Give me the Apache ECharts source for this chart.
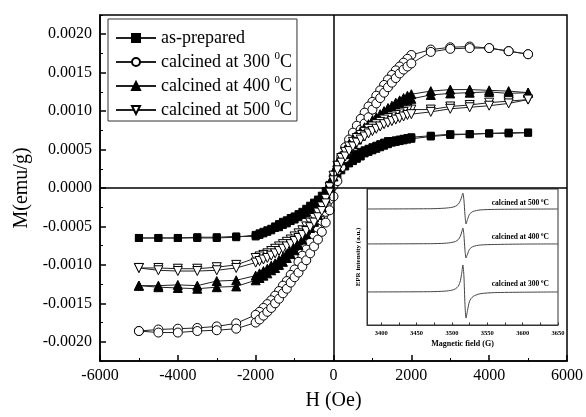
<!DOCTYPE html>
<html>
<head>
<meta charset="utf-8">
<script src="https://cdn.jsdelivr.net/npm/echarts@6/dist/echarts.min.js"></script>
<style>
  html, body { margin: 0; background: #fff; }
  #container { width: 586px; height: 417px; }
</style>
</head>
<body>
<div id="container"></div>
<script>
// field steps of the loop: down from +5000 to -5000, then back up
var hDown = [5000, 4500, 4000, 3500, 3000, 2500,
  2000, 1900, 1800, 1700, 1600, 1500, 1400, 1300, 1200, 1100, 1000, 900, 800, 700, 600, 500, 400, 300, 200, 100,
  0, -100, -200, -300, -400, -500, -600, -700, -800, -900, -1000, -1100, -1200, -1300, -1400, -1500, -1600, -1700, -1800, -1900, -2000,
  -2500, -3000, -3500, -4000, -4500, -5000];
var hUp = [-5000, -4500, -4000, -3500, -3000, -2500,
  -2000, -1900, -1800, -1700, -1600, -1500, -1400, -1300, -1200, -1100, -1000, -900, -800, -700, -600, -500, -400, -300, -200, -100,
  0, 100, 200, 300, 400, 500, 600, 700, 800, 900, 1000, 1100, 1200, 1300, 1400, 1500, 1600, 1700, 1800, 1900, 2000,
  2500, 3000, 3500, 4000, 4500, 5000];

// as-prepared (M, emu/g)
var mPrepDown = [0.00072, 0.00072, 0.00071, 0.00070, 0.00070, 0.00068,
  0.00066, 0.00065, 0.00064, 0.00063, 0.00062, 0.00061, 0.00061, 0.00059, 0.00057, 0.00055, 0.00053, 0.00051, 0.00049, 0.00047, 0.00044, 0.00041, 0.00038, 0.00034, 0.00029, 0.00023,
  0.00014, 0.00004, -0.00004, -0.00010, -0.00015, -0.00019, -0.00023, -0.00027, -0.00031, -0.00034, -0.00037, -0.00039, -0.00042, -0.00044, -0.00047, -0.00050, -0.00053, -0.00055, -0.00057, -0.00059, -0.00061,
  -0.00064, -0.00065, -0.00065, -0.00065, -0.00065, -0.00065];
var mPrepUp = [-0.00065, -0.00065, -0.00065, -0.00064, -0.00064, -0.00063,
  -0.00063, -0.00061, -0.00059, -0.00057, -0.00055, -0.00052, -0.00051, -0.00048, -0.00046, -0.00043, -0.00041, -0.00038, -0.00035, -0.00033, -0.00029, -0.00025, -0.00021, -0.00016, -0.00010, -0.00002,
  0.00008, 0.00017, 0.00023, 0.00028, 0.00032, 0.00035, 0.00038, 0.00041, 0.00045, 0.00047, 0.00049, 0.00051, 0.00053, 0.00055, 0.00057, 0.00059, 0.00060, 0.00061, 0.00062, 0.00063, 0.00064,
  0.00067, 0.00069, 0.00070, 0.00071, 0.00071, 0.00072];

// calcined at 300
var m300Down = [0.00174, 0.00178, 0.00182, 0.00184, 0.00183, 0.00180,
  0.00173, 0.00168, 0.00163, 0.00158, 0.00153, 0.00147, 0.00141, 0.00134, 0.00127, 0.00120, 0.00112, 0.00106, 0.00098, 0.00090, 0.00081, 0.00072, 0.00063, 0.00053, 0.00041, 0.00023,
  0.00003, -0.00015, -0.00031, -0.00043, -0.00053, -0.00062, -0.00071, -0.00080, -0.00088, -0.00096, -0.00106, -0.00113, -0.00121, -0.00127, -0.00134, -0.00140, -0.00146, -0.00151, -0.00156, -0.00161, -0.00165,
  -0.00176, -0.00180, -0.00182, -0.00183, -0.00184, -0.00186];
var m300Up = [-0.00186, -0.00188, -0.00188, -0.00186, -0.00185, -0.00183,
  -0.00175, -0.00171, -0.00166, -0.00161, -0.00156, -0.00150, -0.00144, -0.00137, -0.00131, -0.00123, -0.00116, -0.00110, -0.00102, -0.00094, -0.00085, -0.00076, -0.00067, -0.00057, -0.00045, -0.00029,
  -0.00011, 0.00009, 0.00027, 0.00039, 0.00049, 0.00058, 0.00067, 0.00076, 0.00084, 0.00092, 0.00102, 0.00110, 0.00117, 0.00124, 0.00131, 0.00137, 0.00143, 0.00149, 0.00154, 0.00158, 0.00162,
  0.00177, 0.00181, 0.00182, 0.00182, 0.00178, 0.00174];

// calcined at 400
var m400Down = [0.00124, 0.00126, 0.00127, 0.00128, 0.00128, 0.00126,
  0.00122, 0.00120, 0.00117, 0.00114, 0.00111, 0.00107, 0.00104, 0.00100, 0.00096, 0.00092, 0.00088, 0.00083, 0.00079, 0.00074, 0.00069, 0.00063, 0.00057, 0.00050, 0.00042, 0.00033,
  0.00021, 0.00007, -0.00007, -0.00019, -0.00029, -0.00038, -0.00046, -0.00054, -0.00061, -0.00068, -0.00075, -0.00080, -0.00085, -0.00090, -0.00094, -0.00098, -0.00101, -0.00105, -0.00108, -0.00111, -0.00114,
  -0.00120, -0.00121, -0.00127, -0.00126, -0.00127, -0.00127];
var m400Up = [-0.00127, -0.00129, -0.00130, -0.00131, -0.00129, -0.00128,
  -0.00120, -0.00117, -0.00114, -0.00111, -0.00107, -0.00104, -0.00100, -0.00096, -0.00091, -0.00086, -0.00081, -0.00074, -0.00067, -0.00060, -0.00052, -0.00044, -0.00035, -0.00025, -0.00013, 0.00001,
  0.00015, 0.00027, 0.00036, 0.00044, 0.00051, 0.00057, 0.00063, 0.00068, 0.00073, 0.00077, 0.00082, 0.00086, 0.00090, 0.00094, 0.00098, 0.00101, 0.00105, 0.00108, 0.00111, 0.00114, 0.00116,
  0.00121, 0.00123, 0.00124, 0.00125, 0.00123, 0.00124];

// calcined at 500
var m500Down = [0.00115, 0.00113, 0.00111, 0.00108, 0.00106, 0.00102,
  0.00102, 0.00101, 0.00099, 0.00097, 0.00095, 0.00093, 0.00091, 0.00089, 0.00086, 0.00083, 0.00080, 0.00077, 0.00073, 0.00069, 0.00065, 0.00060, 0.00054, 0.00047, 0.00039, 0.00029,
  0.00016, 0.00001, -0.00014, -0.00024, -0.00032, -0.00039, -0.00045, -0.00050, -0.00055, -0.00059, -0.00063, -0.00067, -0.00070, -0.00073, -0.00076, -0.00079, -0.00082, -0.00085, -0.00087, -0.00089, -0.00091,
  -0.00100, -0.00103, -0.00105, -0.00105, -0.00104, -0.00104];
var m500Up = [-0.00104, -0.00107, -0.00108, -0.00108, -0.00107, -0.00104,
  -0.00097, -0.00095, -0.00093, -0.00091, -0.00088, -0.00085, -0.00082, -0.00079, -0.00076, -0.00073, -0.00069, -0.00065, -0.00061, -0.00056, -0.00051, -0.00045, -0.00038, -0.00030, -0.00020, -0.00005,
  0.00010, 0.00023, 0.00033, 0.00041, 0.00048, 0.00054, 0.00059, 0.00063, 0.00067, 0.00071, 0.00074, 0.00077, 0.00080, 0.00083, 0.00085, 0.00087, 0.00089, 0.00091, 0.00093, 0.00095, 0.00096,
  0.00099, 0.00103, 0.00105, 0.00107, 0.00110, 0.00115];

var mTicks = [-0.002, -0.0015, -0.001, -0.0005, 0, 0.0005, 0.001, 0.0015, 0.002];
var mMinorTicks = [-0.00225, -0.00175, -0.00125, -0.00075, -0.00025, 0.00025, 0.00075, 0.00125, 0.00175, 0.00225];

// inset: EPR spectra
var eprField = [3380, 3470, 3490, 3500, 3505, 3509, 3512, 3514, 3515.5, 3517, 3518.5, 3520, 3522, 3525, 3530, 3540, 3560, 3600, 3650];
var epr500 = [85.3, 85.5, 85.9, 86.5, 87.3, 88.8, 91.5, 94.5, 97.0, 92.0, 81.0, 74.3, 77.5, 81.5, 83.5, 84.6, 85.0, 85.2, 85.3];
var epr400 = [59.6, 59.8, 60.1, 60.7, 61.4, 62.8, 65.3, 68.5, 71.3, 66.0, 55.0, 49.3, 52.0, 55.8, 57.7, 58.8, 59.2, 59.5, 59.6];
var epr300 = [24.3, 24.5, 24.9, 25.6, 26.6, 28.5, 32.5, 38.5, 44.1, 36.0, 15.0, 5.1, 10.5, 17.5, 21.0, 23.0, 23.8, 24.1, 24.3];
var eprLabels = [3400, 3450, 3500, 3550, 3600, 3650];
var eprTicks = [3400, 3425, 3450, 3475, 3500, 3525, 3550, 3575, 3600, 3625, 3650];

var names = ['as-prepared', 'calcined at 300 0C', 'calcined at 400 0C', 'calcined at 500 0C'];

var serif = '"Liberation Serif", "Times New Roman", serif';

function loop(down, up) {
  var d = [];
  for (var i = 0; i < hDown.length; i++) d.push([hDown[i], down[i]]);
  for (var j = 0; j < hUp.length; j++) d.push([hUp[j], up[j]]);
  return d;
}

function mSeries(name, down, up, symbol, size, fill) {
  return {
    name: name,
    type: 'line',
    xAxisIndex: 0,
    yAxisIndex: 0,
    data: loop(down, up),
    symbol: symbol,
    symbolSize: size,
    showAllSymbol: true,
    itemStyle: { color: fill, borderColor: '#000', borderWidth: 1 },
    lineStyle: { color: '#222', width: 1 },
    animation: false
  };
}

function eprSeries(vals) {
  return {
    type: 'line',
    xAxisIndex: 1,
    yAxisIndex: 2,
    data: eprField.map(function (f, i) { return [f, vals[i]]; }),
    symbol: 'none',
    smooth: 0.25,
    lineStyle: { color: '#444', width: 1 },
    animation: false
  };
}

var series = [
  mSeries(names[0], mPrepDown, mPrepUp, 'rect', 7, '#000'),
  mSeries(names[1], m300Down, m300Up, 'circle', 9, '#fff'),
  mSeries(names[2], m400Down, m400Up, 'triangle', 9, '#000'),
  mSeries(names[3], m500Down, m500Up, 'path://M0,0L10,0L5,9Z', 9, '#fff'),
  eprSeries(epr500),
  eprSeries(epr400),
  eprSeries(epr300)
];

// zero lines crossing the main plot
series[0].markLine = {
  silent: true,
  symbol: ['none', 'none'],
  label: { show: false },
  lineStyle: { color: '#000', width: 1.5, type: 'solid' },
  data: [{ xAxis: 0 }, { yAxis: 0 }]
};

function supText(s) {
  var m = s.match(/^(.*) 0C$/);
  if (!m) return '{t|' + s + '}';
  return '{t|' + m[1] + ' }{s|0}{t|C}';
}

function insetLabel(txt, y) {
  return {
    type: 'text',
    right: 586 - 549,
    top: y - 6,
    z: 100,
    style: {
      text: supText(txt),
      fill: '#000',
      rich: {
        t: { fontSize: 7.5, fontWeight: 'bold', fontFamily: serif, lineHeight: 11 },
        s: { fontSize: 5, fontWeight: 'bold', fontFamily: serif, lineHeight: 6, verticalAlign: 'top' }
      }
    }
  };
}

function plain(v) { return String(v); }

var option = {
  backgroundColor: '#fff',
  animation: false,
  legend: {
    data: names,
    orient: 'vertical',
    left: 108,
    top: 19,
    itemWidth: 40,
    itemHeight: 10,
    itemGap: 4,
    padding: [10, 5, 2, 7],
    borderColor: '#333',
    borderWidth: 1,
    formatter: supText,
    textStyle: {
      color: '#000',
      rich: {
        t: { fontSize: 18, fontFamily: serif, lineHeight: 22, color: '#000' },
        s: { fontSize: 11, fontFamily: serif, lineHeight: 12, verticalAlign: 'top', color: '#000' }
      }
    }
  },
  grid: [
    { left: 100, right: 18, top: 15, bottom: 56, show: true, borderColor: '#000', borderWidth: 1.5, backgroundColor: 'transparent' },
    { left: 367, top: 189, width: 191, height: 136, show: true, borderColor: '#333', borderWidth: 1, backgroundColor: '#fff' }
  ],
  xAxis: [
    {
      gridIndex: 0,
      type: 'value',
      min: -6000,
      max: 6000,
      interval: 2000,
      axisLine: { onZero: false, lineStyle: { color: '#000', width: 1.5 } },
      axisTick: { inside: true, length: 6, lineStyle: { color: '#000', width: 1.5 } },
      minorTick: { show: true, splitNumber: 2, length: 3, lineStyle: { color: '#000', width: 1 } },
      splitLine: { show: false },
      axisLabel: { color: '#000', fontSize: 16, fontFamily: serif, margin: 7, formatter: plain },
      name: 'H (Oe)',
      nameLocation: 'middle',
      nameGap: 30,
      nameTextStyle: { color: '#000', fontSize: 20, fontFamily: serif }
    },
    {
      gridIndex: 1,
      type: 'value',
      min: 3380,
      max: 3650,
      axisLine: { onZero: false, lineStyle: { color: '#333', width: 1 } },
      axisTick: { inside: true, length: 2.5, customValues: eprTicks, lineStyle: { color: '#333' } },
      splitLine: { show: false },
      axisLabel: { customValues: eprLabels, color: '#000', fontSize: 6.5, fontWeight: 'bold', fontFamily: serif, margin: 5, formatter: plain },
      name: 'Magnetic field (G)',
      nameLocation: 'middle',
      nameGap: 15,
      nameTextStyle: { color: '#000', fontSize: 8, fontWeight: 'bold', fontFamily: serif }
    }
  ],
  yAxis: [
    {
      gridIndex: 0,
      type: 'value',
      min: -0.00225,
      max: 0.00225,
      position: 'left',
      axisLine: { onZero: false, lineStyle: { color: '#000', width: 1.5 } },
      axisTick: { inside: true, length: 6, customValues: mTicks, lineStyle: { color: '#000', width: 1.5 } },
      splitLine: { show: false },
      axisLabel: {
        customValues: mTicks,
        color: '#000', fontSize: 16, fontFamily: serif, margin: 8,
        formatter: function (v) { return v.toFixed(4); }
      },
      name: 'M(emu/g)',
      nameLocation: 'middle',
      nameRotate: 90,
      nameGap: 68,
      nameTextStyle: { color: '#000', fontSize: 20, fontFamily: serif }
    },
    {
      gridIndex: 0,
      type: 'value',
      min: -0.00225,
      max: 0.00225,
      position: 'left',
      offset: 0,
      axisLine: { show: false, onZero: false },
      axisTick: { inside: true, length: 3, customValues: mMinorTicks, lineStyle: { color: '#000', width: 1 } },
      axisLabel: { show: false },
      splitLine: { show: false }
    },
    {
      gridIndex: 1,
      type: 'value',
      min: 0,
      max: 100,
      axisLine: { show: true, onZero: false, lineStyle: { color: '#333', width: 1 } },
      axisTick: { show: false },
      axisLabel: { show: false },
      splitLine: { show: false },
      name: 'EPR intensity (a.u.)',
      nameLocation: 'middle',
      nameRotate: 90,
      nameGap: 5,
      nameTextStyle: { color: '#000', fontSize: 7, fontWeight: 'bold', fontFamily: serif }
    }
  ],
  graphic: [
    insetLabel('calcined at 500 0C', 204),
    insetLabel('calcined at 400 0C', 238),
    insetLabel('calcined at 300 0C', 285)
  ],
  series: series
};

var myChart = echarts.init(document.getElementById('container'));
myChart.setOption(option);
</script>
</body>
</html>
